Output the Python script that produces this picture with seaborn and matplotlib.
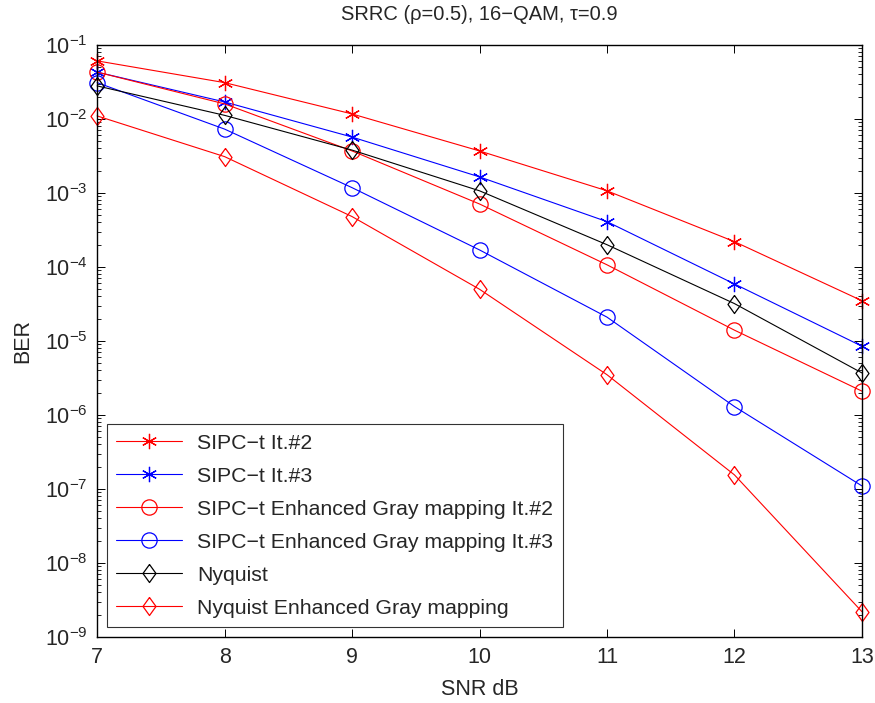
import numpy as np
import pandas as pd
import seaborn as sns
import matplotlib
matplotlib.use("Agg")
import matplotlib.pyplot as plt
from matplotlib.ticker import LogLocator, NullFormatter

# BER vs SNR
snr = [7, 8, 9, 10, 11, 12, 13]
sipc_it2 = [0.061, 0.031, 0.0117, 0.0037, 0.00107, 2.2e-4, 3.5e-5]
sipc_it3 = [0.043, 0.017, 0.0057, 0.00165, 4.1e-4, 5.9e-5, 8.5e-6]
sipc_eg_it2 = [0.043, 0.016, 0.0037, 7.1e-4, 1.07e-4, 1.4e-5, 2.1e-6]
sipc_eg_it3 = [0.031, 0.0073, 0.00118, 1.7e-4, 2.1e-5, 1.3e-6, 1.1e-7]
nyquist = [0.028, 0.0112, 0.0038, 0.00107, 2.0e-4, 3.2e-5, 3.7e-6]
nyquist_eg = [0.011, 0.0031, 4.8e-4, 5.0e-5, 3.5e-6, 1.55e-7, 2.2e-9]

labels = ['SIPC\u2212t It.#2', 'SIPC\u2212t It.#3',
          'SIPC\u2212t Enhanced Gray mapping It.#2',
          'SIPC\u2212t Enhanced Gray mapping It.#3',
          'Nyquist', 'Nyquist Enhanced Gray mapping']
series = [sipc_it2, sipc_it3, sipc_eg_it2, sipc_eg_it3, nyquist, nyquist_eg]

# matlab-like markers: asterisk, circle, narrow diamond
asterisk = (6, 2, 0)
diamond = [(0, 1), (0.72, 0), (0, -1), (-0.72, 0), (0, 1)]
styles = [('#ff0000', asterisk, 11), ('#0000ff', asterisk, 11), ('#ff0000', 'o', 11),
          ('#0000ff', 'o', 11), ('#000000', diamond, 13), ('#ff0000', diamond, 13)]

sns.set_style('ticks')
plt.rcParams['font.family'] = ['Liberation Sans', 'DejaVu Sans']
plt.rcParams['mathtext.fontset'] = 'custom'
plt.rcParams['mathtext.rm'] = 'Liberation Sans'

fig = plt.figure(figsize=(8.75, 7.03), dpi=100)
ax = fig.add_axes([0.111, 0.094, 0.874, 0.842])

for lab, vals, (col, mk, ms) in zip(labels, series, styles):
    df = pd.DataFrame({'SNR': snr, 'BER': vals})
    sns.lineplot(data=df, x='SNR', y='BER', ax=ax, color=col, marker=mk,
                 markersize=ms, markerfacecolor='none', markeredgecolor=col,
                 markeredgewidth=0.9, linewidth=0.8, label=lab, clip_on=False)

ax.set_yscale('log')
ax.set_xlim(7, 13)
ax.set_ylim(1e-9, 1e-1)
ax.set_xticks(snr)
ax.yaxis.set_major_locator(LogLocator(base=10, numticks=20))
ax.yaxis.set_minor_locator(LogLocator(base=10, subs=np.arange(2, 10), numticks=20))
ax.yaxis.set_minor_formatter(NullFormatter())
ax.tick_params(which='both', direction='in', top=True, right=True, labelsize=15.5,
               color='black')
ax.tick_params(which='major', length=6, width=0.7, pad=7)
ax.tick_params(which='minor', length=3, width=0.6)
for s in ax.spines.values():
    s.set_color('black')
    s.set_linewidth(1.0)

ax.set_xlabel('SNR dB', fontsize=15.5, labelpad=8)
ax.set_ylabel('BER', fontsize=15.5, labelpad=8)
ax.set_title('SRRC (\u03c1=0.5), 16\u2212QAM, \u03c4=0.9', fontsize=14.5, pad=18)

leg = ax.legend(loc='lower left', fontsize=15.3, handlelength=3.1, frameon=True,
                fancybox=False, borderpad=0.45, labelspacing=0.66,
                handletextpad=0.7, borderaxespad=0.45)
leg.get_frame().set_edgecolor('black')
leg.get_frame().set_linewidth(0.8)

fig.savefig('out.png', dpi=100)
